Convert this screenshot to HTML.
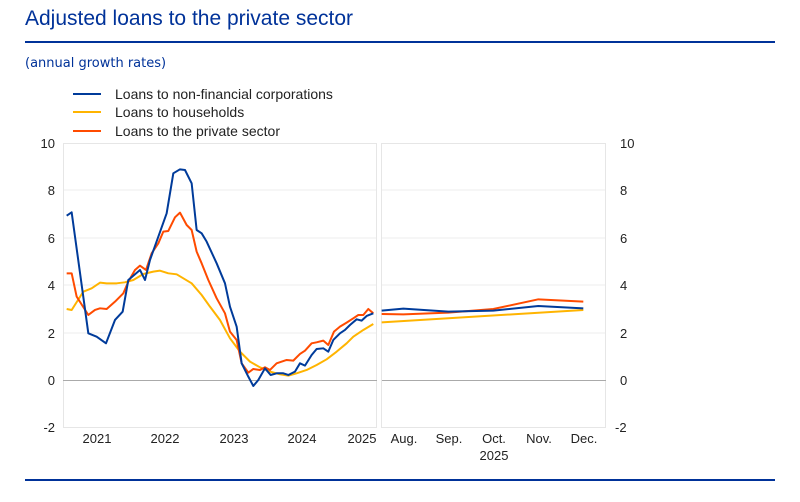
<!DOCTYPE html>
<html><head><meta charset="utf-8"><style>
body{margin:0;background:#fff;width:800px;height:497px;overflow:hidden;font-family:"Liberation Sans",sans-serif}
</style></head><body>
<svg width="800" height="497" xmlns="http://www.w3.org/2000/svg" font-family="Liberation Sans, sans-serif">
<text x="25" y="25" font-size="21" fill="#003299">Adjusted loans to the private sector</text>
<rect x="25" y="41" width="750" height="2" fill="#003299"/>
<text x="25" y="67" font-size="13" fill="#003299" font-family="DejaVu Sans, sans-serif">(annual growth rates)</text>
<line x1="73" y1="94" x2="101" y2="94" stroke="#003b9a" stroke-width="2"/>
<line x1="73" y1="112" x2="101" y2="112" stroke="#ffb400" stroke-width="2"/>
<line x1="73" y1="131" x2="101" y2="131" stroke="#ff4b00" stroke-width="2"/>
<g font-size="14" fill="#222"><text x="115" y="99">Loans to non-financial corporations</text><text x="115" y="117">Loans to households</text><text x="115" y="136">Loans to the private sector</text></g>
<g stroke="#eee" stroke-width="1">
<line x1="63" y1="190" x2="377" y2="190"/><line x1="63" y1="238" x2="377" y2="238"/><line x1="63" y1="285" x2="377" y2="285"/><line x1="63" y1="333" x2="377" y2="333"/>
<line x1="382" y1="190" x2="606" y2="190"/><line x1="382" y1="238" x2="606" y2="238"/><line x1="382" y1="285" x2="606" y2="285"/><line x1="382" y1="333" x2="606" y2="333"/>
</g>
<rect x="63.5" y="143.5" width="313" height="284" fill="none" stroke="#e6e6e6"/>
<rect x="381.5" y="143.5" width="224" height="284" fill="none" stroke="#e6e6e6"/>
<line x1="63" y1="380.5" x2="377" y2="380.5" stroke="#aaa"/>
<line x1="382" y1="380.5" x2="606" y2="380.5" stroke="#aaa"/>
<g font-size="13" fill="#222" text-anchor="end">
<text x="55" y="148">10</text><text x="55" y="195">8</text><text x="55" y="243">6</text><text x="55" y="290">4</text><text x="55" y="338">2</text><text x="55" y="385">0</text><text x="55" y="432">-2</text></g>
<g font-size="13" fill="#222" text-anchor="start">
<text x="620" y="148">10</text><text x="620" y="195">8</text><text x="620" y="243">6</text><text x="620" y="290">4</text><text x="620" y="338">2</text><text x="620" y="385">0</text><text x="615" y="432">-2</text></g>
<g font-size="13" fill="#222" text-anchor="middle">
<text x="97" y="443">2021</text><text x="165" y="443">2022</text><text x="234" y="443">2023</text><text x="302" y="443">2024</text><text x="362" y="443">2025</text>
<text x="404" y="443">Aug.</text><text x="449" y="443">Sep.</text><text x="494" y="443">Oct.</text><text x="539" y="443">Nov.</text><text x="584" y="443">Dec.</text>
<text x="494" y="460">2025</text></g>
<g transform="translate(30,130) scale(0.3333)" fill="none" stroke-width="6" stroke-linejoin="round">
<polyline stroke="#ffb400" points="110,537 125,540 160,485 185,475 210,458 230,460 260,460 285,457 310,450 340,432 370,425 390,422 415,430 440,433 460,445 485,460 515,495 540,530 570,570 600,625 630,665 660,695 690,712 720,725 750,733 775,737 800,730 830,720 860,705 890,688 920,665 950,640 970,620 1000,600 1030,582"/>
<polyline stroke="#ff4b00" points="110,430 125,430 140,500 175,555 195,540 210,535 230,537 255,515 280,490 295,455 315,420 330,407 348,420 365,370 385,340 400,305 415,303 435,262 450,248 470,285 485,300 500,365 515,400 535,450 560,505 585,550 600,605 620,630 635,700 655,728 670,717 690,720 705,712 720,720 740,700 770,690 790,692 810,672 825,662 845,640 860,637 880,632 895,645 912,605 930,590 950,578 970,565 985,555 1000,555 1015,537 1030,550"/>
<polyline stroke="#003b9a" points="110,257 125,247 175,610 200,620 228,640 255,570 278,545 295,450 330,420 345,450 360,390 385,320 410,250 430,130 450,118 465,120 485,160 500,300 515,310 530,335 560,400 585,460 600,530 620,590 635,700 655,740 670,768 685,750 705,715 722,735 740,730 760,730 775,735 795,725 810,700 825,707 845,675 860,657 880,655 895,665 910,630 930,610 945,600 960,585 980,568 995,572 1010,558 1030,550"/>
</g>
<g transform="translate(370,270) scale(0.3333)" fill="none" stroke-width="6" stroke-linejoin="round">
<polyline stroke="#ffb400" points="35,157 640,120"/>
<polyline stroke="#ff4b00" points="35,132 100,133 235,128 370,117 505,88 640,95"/>
<polyline stroke="#003b9a" points="35,122 100,116 235,125 370,122 505,108 640,115"/>
</g>
<rect x="25" y="479" width="750" height="2" fill="#003299"/>
</svg>
</body></html>
